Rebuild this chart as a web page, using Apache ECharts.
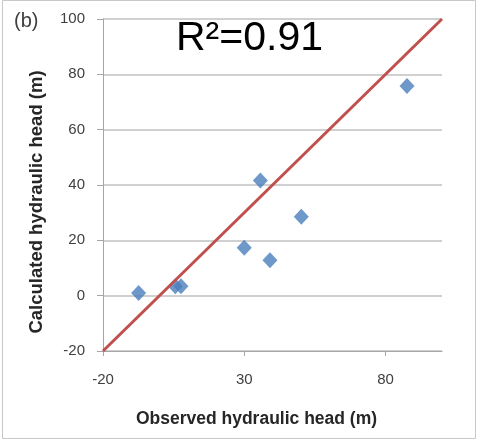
<!DOCTYPE html>
<html><head><meta charset="utf-8">
<script src="https://cdn.jsdelivr.net/npm/echarts@6/dist/echarts.min.js"></script>
<style>html,body{margin:0;padding:0;background:#fff}#c{width:481px;height:440px}</style>
</head><body><div id="c"></div>
<script>
const observed = [-7.4, 5.6, 7.6, 30.0, 35.7, 39.1, 50.2, 87.6];
const calculated = [1.0, 3.4, 3.4, 17.3, 41.6, 12.8, 28.5, 75.8];
const lineX = [-20, 100];
const lineY = [-20, 100];
const r2Label = 'R²=0.91';
const panelLabel = '(b)';

const chart = echarts.init(document.getElementById('c'), null, {renderer: 'canvas'});
const font = 'Liberation Sans, Arial, sans-serif';
chart.setOption({
  animation: false,
  backgroundColor: '#fff',
  grid: {left: 103, right: 39, top: 19, bottom: 89},
  graphic: [
    {type: 'rect', shape: {x: 2.5, y: 0.5, width: 473, height: 438}, style: {fill: 'none', stroke: '#c8c8c8', lineWidth: 1}, silent: true},
    {type: 'text', left: 14, top: 11, style: {text: panelLabel, font: '20px ' + font, fill: '#404040'}},
    {type: 'text', left: 176, top: 18, style: {text: r2Label, font: '41px ' + font, fill: '#000'}}
  ],
  xAxis: {
    type: 'value', min: -20, max: 100, interval: 50,
    name: 'Observed hydraulic head (m)', nameLocation: 'middle', nameGap: 59,
    nameTextStyle: {fontFamily: font, fontSize: 17.5, fontWeight: 'bold', color: '#262626', padding: [0, 32, 0, 0]},
    axisLine: {show: true, onZero: false, lineStyle: {color: '#a6a6a6', width: 1}},
    axisTick: {show: true, length: 5, lineStyle: {color: '#a6a6a6'}},
    axisLabel: {fontFamily: font, fontSize: 15, color: '#404040', margin: 21, showMaxLabel: false},
    splitLine: {show: false}
  },
  yAxis: {
    type: 'value', min: -20, max: 100, interval: 20,
    name: 'Calculated hydraulic head (m)', nameLocation: 'middle', nameGap: 57,
    nameTextStyle: {fontFamily: font, fontSize: 18.5, fontWeight: 'bold', color: '#262626', padding: [0, 34, 0, 0]},
    axisLine: {show: true, onZero: false, lineStyle: {color: '#a6a6a6', width: 1}},
    axisTick: {show: true, length: 6, lineStyle: {color: '#a6a6a6'}},
    axisLabel: {fontFamily: font, fontSize: 15, color: '#404040', margin: 18},
    splitLine: {show: true, lineStyle: {color: '#c0c0c0', width: 1.5}}
  },
  series: [
    {type: 'line', data: lineX.map((x, i) => [x, lineY[i]]), symbol: 'none',
     lineStyle: {color: '#c0504d', width: 3}, z: 3},
    {type: 'scatter', data: observed.map((x, i) => [x, calculated[i]]), symbol: 'diamond',
     symbolSize: [15, 16], itemStyle: {color: '#4a7ebb'}, z: 2}
  ]
});
</script></body></html>
